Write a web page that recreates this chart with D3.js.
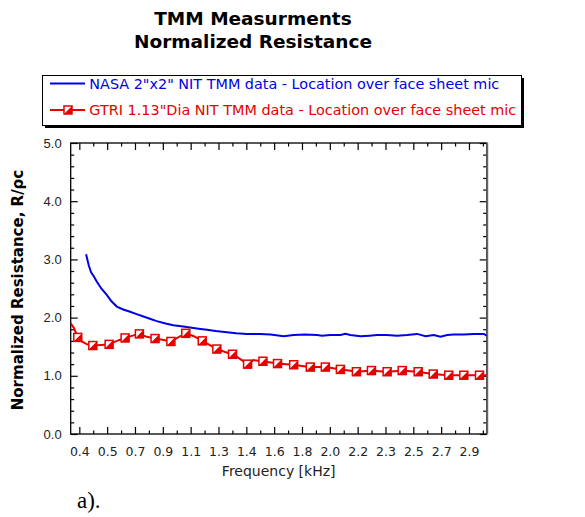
<!DOCTYPE html>
<html><head><meta charset="utf-8">
<script src="https://cdn.jsdelivr.net/npm/d3@7"></script>
<style>body{margin:0;background:#fff}svg{display:block}</style>
</head><body>
<script>
// ---- data ----
const titleLines = ["TMM Measurments", "Normalized Resistance"];
const seriesNames = [
  "NASA 2\"x2\" NIT TMM data - Location over face sheet mic",
  "GTRI 1.13\"Dia NIT TMM data - Location over face sheet mic"
];
const xTickLabels = ["0.4","0.5","0.7","0.9","1.1","1.3","1.4","1.6","1.8","2.0","2.2","2.3","2.5","2.7","2.9"];
const xTickStart = 0.38, xTickStep = 0.1775;
const yTickLabels = ["0.0","1.0","2.0","3.0","4.0","5.0"];
// NASA series: [frequency kHz, R/rho c]
const nasaFreq = [0.423,0.440,0.455,0.470,0.491,0.520,0.555,0.585,0.619,0.660,0.704,0.745,0.789,0.830,0.874,0.930,0.980,1.030,1.087,1.140,1.194,1.250,1.321,1.380,1.449,1.530,1.600,1.683,1.747,1.820,1.896,1.928,1.980,2.045,2.077,2.108,2.172,2.230,2.279,2.340,2.407,2.470,2.534,2.588,2.641,2.683,2.726,2.768,2.832,2.896,2.960,2.978];
const nasaVal  = [3.09,2.90,2.78,2.72,2.62,2.50,2.39,2.28,2.19,2.14,2.10,2.06,2.02,1.98,1.94,1.90,1.87,1.85,1.83,1.81,1.79,1.77,1.75,1.73,1.72,1.72,1.71,1.68,1.70,1.71,1.70,1.69,1.70,1.70,1.72,1.70,1.68,1.69,1.70,1.70,1.69,1.70,1.72,1.68,1.70,1.67,1.70,1.71,1.71,1.72,1.72,1.69];
// GTRI series line points
const gtriFreq = [0.325,0.346,0.370,0.395,0.430,0.466,0.520,0.570,0.620,0.672,0.720,0.763,0.810,0.863,0.910,0.964,1.010,1.059,1.110,1.164,1.210,1.257,1.310,1.357,1.400,1.453,1.490,1.551,1.600,1.644,1.700,1.747,1.800,1.853,1.900,1.949,2.000,2.045,2.100,2.147,2.190,2.243,2.290,2.343,2.390,2.439,2.490,2.541,2.590,2.637,2.690,2.736,2.780,2.832,2.880,2.932,2.978];
const gtriVal  = [1.90,1.82,1.66,1.59,1.54,1.52,1.53,1.54,1.60,1.65,1.69,1.72,1.67,1.64,1.62,1.59,1.66,1.73,1.68,1.60,1.53,1.46,1.41,1.37,1.30,1.20,1.27,1.25,1.23,1.21,1.20,1.19,1.17,1.15,1.15,1.15,1.13,1.11,1.09,1.07,1.08,1.09,1.08,1.07,1.08,1.09,1.08,1.07,1.05,1.03,1.02,1.01,1.01,1.01,1.01,1.01,1.01];
// GTRI marker points
const gtriMarkFreq = [0.370,0.466,0.570,0.672,0.763,0.863,0.964,1.059,1.164,1.257,1.357,1.453,1.551,1.644,1.747,1.853,1.949,2.045,2.147,2.243,2.343,2.439,2.541,2.637,2.736,2.832,2.932];
const gtriMarkVal  = [1.66,1.52,1.54,1.65,1.72,1.64,1.59,1.73,1.60,1.46,1.37,1.20,1.25,1.21,1.19,1.15,1.15,1.11,1.07,1.09,1.07,1.09,1.07,1.03,1.01,1.01,1.01];

const W = 585, H = 517;
const blue = "#0000e6", red = "#e60000";
const svg = d3.select("body").append("svg").attr("width", W).attr("height", H);

const x = d3.scaleLinear().domain([0.325, 2.978]).range([70.7, 486.7]);
const y = d3.scaleLinear().domain([0, 5]).range([434, 143]);

// title
svg.append("g").selectAll("text").data(titleLines).join("text")
  .attr("x", 253).attr("y", (d,i) => 25 + i*23)
  .attr("text-anchor", "middle")
  .style("font-family", "'DejaVu Sans', Verdana, sans-serif")
  .style("font-weight", "bold").style("font-size", "18.5px").text(d => d);

// legend
const lg = svg.append("g");
lg.append("rect").attr("x", 45).attr("y", 78).attr("width", 479).attr("height", 50).attr("fill", "#000");
lg.append("rect").attr("x", 42.5).attr("y", 75.5).attr("width", 479).attr("height", 50)
  .attr("fill", "#fff").attr("stroke", "#000").attr("stroke-width", 1);
lg.append("line").attr("x1", 50).attr("x2", 85).attr("y1", 83.5).attr("y2", 83.5).attr("stroke", blue).attr("stroke-width", 2);
lg.append("line").attr("x1", 50).attr("x2", 85).attr("y1", 110).attr("y2", 110).attr("stroke", red).attr("stroke-width", 2);
lg.selectAll("text.leg").data(seriesNames).join("text")
  .attr("class","leg")
  .attr("x", 89.3).attr("y", (d,i) => 83.5 + i*26.5)
  .attr("dy", "0.36em")
  .attr("fill", (d,i) => i === 0 ? blue : red)
  .attr("textLength", (d,i) => i === 0 ? 410 : 427)
  .attr("lengthAdjust", "spacingAndGlyphs")
  .style("font-family", "'DejaVu Sans', Verdana, sans-serif").style("font-size", "14.5px")
  .text(d => d);

function marker(g, cx, cy) {
  const s = 8;
  const m = g.append("g").attr("transform", `translate(${cx},${cy})`);
  m.append("rect").attr("x", -s/2).attr("y", -s/2).attr("width", s).attr("height", s)
    .attr("fill", "#fff").attr("stroke", red).attr("stroke-width", 1.5);
  m.append("path").attr("d", `M${-s/2},${s/2}L${s/2},${-s/2}L${s/2},${s/2}Z`).attr("fill", red);
}
marker(lg, 68, 110);

// axes
const xMajor = xTickLabels.map((d,i) => xTickStart + i*xTickStep);
const xMinor = xTickLabels.map((d,i) => xTickStart + (i+0.5)*xTickStep).filter(v => v < x.domain()[1]);
const yMajor = yTickLabels.map(d => +d);
const yMinor = d3.range(0, 5.001, 0.2).filter(v => Math.abs(v - Math.round(v)) > 1e-6);

function styleAxis(g) {
  g.select(".domain").remove();
  g.selectAll("line").attr("stroke", "#000").attr("stroke-width", 1.2);
}
const fmtX = (d,i) => xTickLabels[i];
svg.append("g").attr("transform", "translate(0,434)")
  .call(d3.axisBottom(x).tickValues(xMajor).tickSize(-7).tickPadding(13).tickFormat(fmtX))
  .call(styleAxis)
  .call(g => g.selectAll("text").attr("fill", "#222").style("font-family", "'DejaVu Sans', Verdana, sans-serif").style("font-size", "12.5px"));
svg.append("g").attr("transform", "translate(0,434)")
  .call(d3.axisBottom(x).tickValues(xMinor).tickSize(-3.5).tickFormat("")).call(styleAxis);
svg.append("g").attr("transform", "translate(0,143)")
  .call(d3.axisTop(x).tickValues(xMajor).tickSize(-7).tickFormat("")).call(styleAxis);
svg.append("g").attr("transform", "translate(0,143)")
  .call(d3.axisTop(x).tickValues(xMinor).tickSize(-3.5).tickFormat("")).call(styleAxis);

svg.append("g").attr("transform", "translate(70.7,0)")
  .call(d3.axisLeft(y).tickValues(yMajor).tickSize(-7).tickPadding(9).tickFormat((d,i) => yTickLabels[i]))
  .call(styleAxis)
  .call(g => g.selectAll("text").attr("fill", "#222").style("font-family", "'Liberation Sans', Arial, sans-serif").style("font-size", "13px"));
svg.append("g").attr("transform", "translate(70.7,0)")
  .call(d3.axisLeft(y).tickValues(yMinor).tickSize(-3.5).tickFormat("")).call(styleAxis);
svg.append("g").attr("transform", "translate(486.7,0)")
  .call(d3.axisRight(y).tickValues(yMajor).tickSize(-7).tickFormat("")).call(styleAxis);
svg.append("g").attr("transform", "translate(486.7,0)")
  .call(d3.axisRight(y).tickValues(yMinor).tickSize(-3.5).tickFormat("")).call(styleAxis);

// frame
svg.append("rect").attr("x", 70.7).attr("y", 143).attr("width", 416).attr("height", 291)
  .attr("fill", "none").attr("stroke", "#000").attr("stroke-width", 1.3);
svg.append("line").attr("x1", 487.2).attr("x2", 487.2).attr("y1", 143).attr("y2", 434)
  .attr("stroke", "#666").attr("stroke-width", 2);

// series
svg.append("clipPath").attr("id", "clip").append("rect")
  .attr("x", 70.7).attr("y", 143).attr("width", 416).attr("height", 291);
const line = d3.line().x(d => x(d[0])).y(d => y(d[1]));
svg.append("path").datum(nasaFreq.map((f,i) => [f, nasaVal[i]]))
  .attr("d", line).attr("fill", "none").attr("stroke", blue).attr("stroke-width", 2).attr("clip-path", "url(#clip)");
svg.append("path").datum(gtriFreq.map((f,i) => [f, gtriVal[i]]))
  .attr("d", line).attr("fill", "none").attr("stroke", red).attr("stroke-width", 2).attr("clip-path", "url(#clip)");
const mg = svg.append("g");
gtriMarkFreq.forEach((f,i) => marker(mg, x(f), y(gtriMarkVal[i])));

// axis titles
svg.append("text").attr("x", 278.7).attr("y", 476).attr("text-anchor", "middle")
  .attr("fill", "#222")
  .style("font-family", "'DejaVu Sans', Verdana, sans-serif").style("font-size", "14px")
  .text("Frequency [kHz]");
svg.append("text").attr("transform", "translate(23,290) rotate(-90)").attr("text-anchor", "middle")
  .style("font-family", "'DejaVu Sans', Verdana, sans-serif").style("font-weight", "bold").style("font-size", "15px")
  .text("Normalized Resistance, R/ρc");
svg.append("text").attr("x", 77).attr("y", 508)
  .style("font-family", "'Liberation Serif', 'Times New Roman', serif").style("font-size", "23px")
  .text("a).");
</script>
</body></html>
